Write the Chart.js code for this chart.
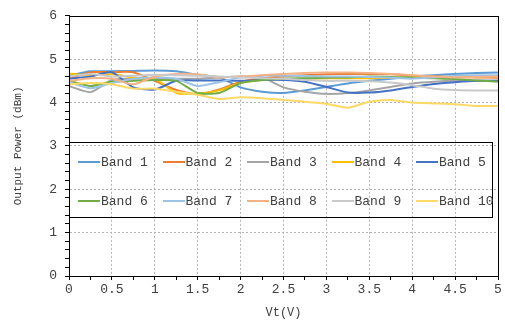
<!DOCTYPE html>
<html>
<head>
<meta charset="utf-8">
<script src="https://cdn.jsdelivr.net/npm/chart.js@4/dist/chart.umd.min.js"></script>
<style>
  html, body { margin: 0; padding: 0; background: #fff; }
  #wrap { position: relative; width: 505px; height: 325px; }
  #legend {
    position: absolute; left: 69px; top: 142px; width: 422px; height: 74px;
    border: 1px solid #000; font-family: 'Liberation Mono', monospace;
    font-size: 13px; color: #404040;
  }
  .item { position: absolute; display: flex; align-items: center; height: 16px; white-space: nowrap; }
  .swatch { display: inline-block; width: 22px; height: 2px; margin-right: 1px; }
</style>
</head>
<body>
<div id="wrap">
  <canvas id="myChart" width="505" height="325"></canvas>
  <div id="legend"></div>
</div>
<script>
'use strict';

const vt = [0, 0.25, 0.5, 0.75, 1, 1.25, 1.5, 1.75, 2, 2.25, 2.5, 2.75, 3, 3.25, 3.5, 3.75, 4, 4.25, 4.5, 4.75, 5];

const band1 = [4.62, 4.72, 4.72, 4.73, 4.74, 4.72, 4.64, 4.58, 4.35, 4.25, 4.22, 4.28, 4.36, 4.44, 4.50, 4.55, 4.60, 4.63, 4.66, 4.68, 4.69];
const band2 = [4.55, 4.70, 4.70, 4.70, 4.50, 4.29, 4.19, 4.30, 4.48, 4.56, 4.60, 4.63, 4.65, 4.66, 4.66, 4.65, 4.62, 4.60, 4.59, 4.58, 4.57];
const band3 = [4.38, 4.24, 4.52, 4.55, 4.56, 4.55, 4.55, 4.58, 4.60, 4.58, 4.35, 4.25, 4.20, 4.22, 4.28, 4.36, 4.44, 4.48, 4.50, 4.50, 4.50];
const band4 = [4.67, 4.62, 4.66, 4.57, 4.55, 4.22, 4.21, 4.28, 4.45, 4.52, 4.54, 4.55, 4.56, 4.56, 4.56, 4.57, 4.58, 4.58, 4.59, 4.60, 4.60];
const band5 = [4.55, 4.60, 4.70, 4.35, 4.30, 4.50, 4.51, 4.51, 4.50, 4.52, 4.52, 4.48, 4.36, 4.23, 4.23, 4.28, 4.36, 4.43, 4.47, 4.50, 4.50];
const band6 = [4.50, 4.38, 4.48, 4.50, 4.52, 4.50, 4.22, 4.22, 4.45, 4.52, 4.55, 4.56, 4.57, 4.58, 4.60, 4.59, 4.57, 4.56, 4.54, 4.51, 4.48];
const band7 = [4.47, 4.33, 4.45, 4.55, 4.58, 4.55, 4.38, 4.47, 4.58, 4.62, 4.62, 4.61, 4.60, 4.60, 4.59, 4.57, 4.55, 4.58, 4.62, 4.63, 4.63];
const band8 = [4.50, 4.56, 4.55, 4.42, 4.60, 4.66, 4.65, 4.58, 4.60, 4.63, 4.66, 4.68, 4.69, 4.69, 4.68, 4.66, 4.63, 4.60, 4.58, 4.59, 4.60];
const band9 = [4.60, 4.66, 4.60, 4.62, 4.64, 4.63, 4.62, 4.60, 4.58, 4.56, 4.55, 4.52, 4.50, 4.50, 4.49, 4.46, 4.40, 4.32, 4.29, 4.28, 4.28];
const band10 = [4.42, 4.45, 4.42, 4.32, 4.32, 4.25, 4.18, 4.08, 4.12, 4.10, 4.06, 4.02, 3.97, 3.88, 4.02, 4.06, 4.00, 3.98, 3.96, 3.92, 3.92];

const bandNames = ['Band 1', 'Band 2', 'Band 3', 'Band 4', 'Band 5', 'Band 6', 'Band 7', 'Band 8', 'Band 9', 'Band 10'];
const bandValues = [band1, band2, band3, band4, band5, band6, band7, band8, band9, band10];
const bandColors = ['#5B9BD5', '#ED7D31', '#A5A5A5', '#FFC000', '#4472C4',
  '#70AD47', '#9DC3E6', '#F4B183', '#C9C9C9', '#FFD966'];

const FONT = 'Liberation Mono';
const TEXT = '#404040';
const GRID = '#b4b4b4';

function isStep(v, step) {
  const r = v / step;
  return Math.abs(r - Math.round(r)) < 1e-6;
}

// later bands sit on top, so give them the lowest order
const datasets = bandNames.map((name, i) => ({
  label: name,
  data: vt.map((x, j) => ({x: x, y: bandValues[i][j]})),
  borderColor: bandColors[i],
  backgroundColor: bandColors[i],
  borderWidth: 2,
  pointRadius: 0,
  tension: 0.2,
  order: bandNames.length - i
}));

// box round the plot area
const frame = {
  id: 'frame',
  afterDraw(chart) {
    const {ctx, chartArea: a} = chart;
    ctx.save();
    ctx.strokeStyle = '#000';
    ctx.lineWidth = 1;
    ctx.strokeRect(Math.round(a.left) + 0.5, Math.round(a.top) + 0.5,
      Math.round(a.right - a.left), Math.round(a.bottom - a.top));
    ctx.restore();
  }
};

const ctx = document.getElementById('myChart').getContext('2d');
const chart = new Chart(ctx, {
  type: 'line',
  data: {datasets: datasets},
  options: {
    responsive: false,
    animation: false,
    layout: {padding: {top: 10, right: 7, left: 0, bottom: 0}},
    plugins: {legend: {display: false}, tooltip: {enabled: false}},
    scales: {
      x: {
        type: 'linear',
        min: 0,
        max: 5,
        ticks: {
          stepSize: 0.25,
          autoSkip: false,
          maxRotation: 0,
          padding: 2,
          color: TEXT,
          font: {family: FONT, size: 13},
          callback: v => isStep(v, 0.5) ? String(v) : ''
        },
        grid: {
          color: c => (isStep(c.tick.value, 0.5) && c.tick.value > 0 && c.tick.value < 5) ? GRID : 'transparent',
          tickColor: '#000',
          tickLength: 4
        },
        border: {color: '#000', width: 1, dash: [2, 2]},
        title: {
          display: true,
          text: 'Vt(V)',
          color: TEXT,
          font: {family: FONT, size: 12},
          padding: {top: 0, bottom: 5}
        },
        afterFit: s => { s.height = 49; }
      },
      y: {
        min: 0,
        max: 6,
        ticks: {
          stepSize: 0.2,
          autoSkip: false,
          padding: 8,
          color: TEXT,
          font: {family: FONT, size: 13},
          callback: v => isStep(v, 1) ? String(Math.round(v)) : ''
        },
        grid: {
          color: c => (isStep(c.tick.value, 1) && c.tick.value > 0 && c.tick.value < 6) ? GRID : 'transparent',
          tickColor: '#000',
          tickLength: 4
        },
        border: {color: '#000', width: 1, dash: [2, 2]},
        title: {
          display: true,
          text: 'Output Power (dBm)',
          color: TEXT,
          font: {family: FONT, size: 11},
          padding: {top: 11, bottom: 0}
        },
        afterFit: s => { s.width = 69; }
      }
    }
  },
  plugins: [frame]
});

// legend: two rows of five inside a box over the plot
const legend = document.getElementById('legend');
chart.data.datasets.forEach((ds, i) => {
  const item = document.createElement('div');
  item.className = 'item';
  item.style.left = (8 + (i % 5) * 84.5) + 'px';
  item.style.top = (i < 5 ? 11 : 50) + 'px';
  const sw = document.createElement('span');
  sw.className = 'swatch';
  sw.style.background = ds.borderColor;
  const txt = document.createElement('span');
  txt.textContent = ds.label;
  item.appendChild(sw);
  item.appendChild(txt);
  legend.appendChild(item);
});
</script>
</body>
</html>
